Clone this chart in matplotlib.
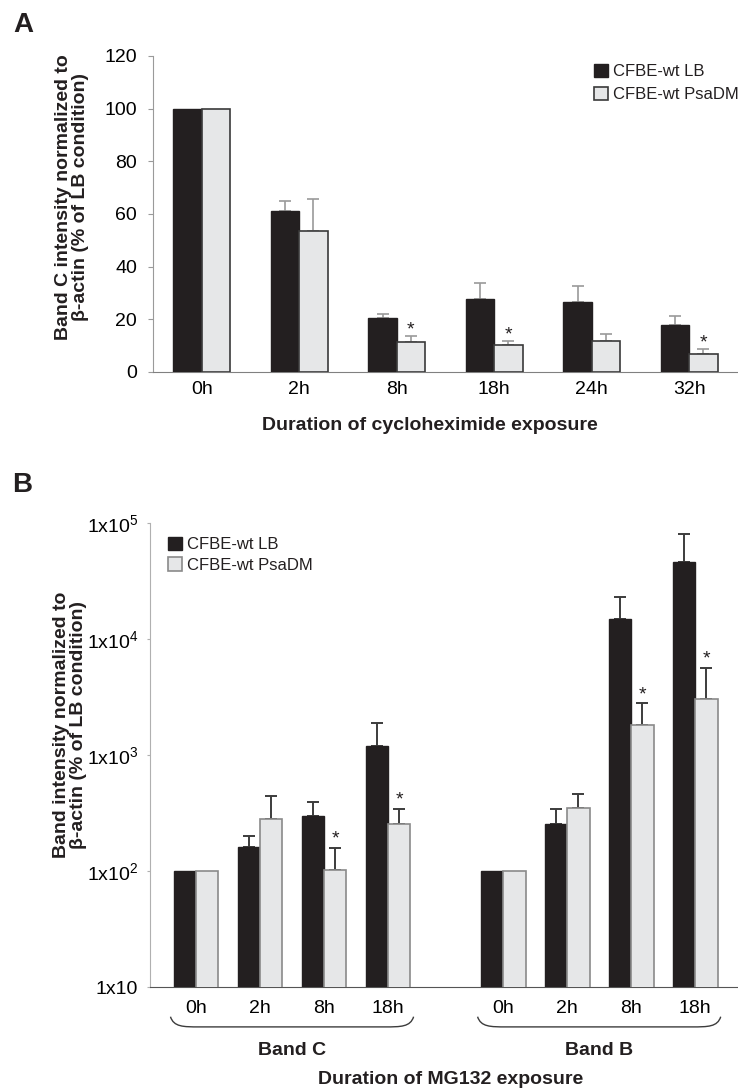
import numpy as np
import matplotlib
matplotlib.use('Agg')
import matplotlib.pyplot as plt
from matplotlib.patches import PathPatch
from matplotlib.path import Path
from matplotlib.transforms import blended_transform_factory

plt.rcParams['font.family'] = ['Liberation Sans', 'DejaVu Sans']
plt.rcParams['mathtext.fontset'] = 'custom'
plt.rcParams['mathtext.rm'] = 'Liberation Sans'
plt.rcParams['mathtext.default'] = 'regular'
plt.rcParams['text.color'] = '#231f20'

# panel A: band C after cycloheximide (% of LB condition)
hours_a = ['0h', '2h', '8h', '18h', '24h', '32h']
lb_a = [100, 61, 20.5, 27.8, 26.7, 17.7]
lb_a_err = [0, 3.8, 1.7, 6.1, 6.0, 3.4]
psa_a = [100, 53.5, 11.5, 10.3, 11.9, 7.0]
psa_a_err = [0, 12.1, 2.2, 1.5, 2.4, 1.6]
sig_a = [False, False, True, True, False, True]

# panel B: bands C and B after MG132 (log scale)
hours_b = ['0h', '2h', '8h', '18h', '0h', '2h', '8h', '18h']
bands_b = ['Band C', 'Band B']
lb_b = [100, 161, 298, 1200, 100, 256, 14800, 46000]
lb_b_err = [0, 39, 92, 680, 0, 89, 8200, 35000]
psa_b = [100, 282, 103, 256, 100, 351, 1830, 3040]
psa_b_err = [0, 161, 56, 87, 0, 106, 950, 2600]
sig_b = [False, False, True, True, False, False, True, True]

labels = ['CFBE-wt LB', 'CFBE-wt PsaDM']
BLACK = '#231f20'
LIGHT = '#e6e7e8'

W, H = 738, 1091
fig = plt.figure(figsize=(W / 100, H / 100), dpi=100)


def box(l, t, r, b):
    return [l / W, 1 - b / H, (r - l) / W, (b - t) / H]


def up_errors(ax, x, vals, errs, color, lw):
    x = np.asarray(x, float)
    vals = np.asarray(vals, float)
    errs = np.asarray(errs, float)
    keep = errs > 0
    ax.errorbar(x[keep], vals[keep], yerr=[np.zeros(keep.sum()), errs[keep]],
                fmt='none', ecolor=color, elinewidth=lw, capsize=4, capthick=lw,
                zorder=2)


def stars(ax, x, vals, errs, sig, dy):
    for xi, v, e, s in zip(x, vals, errs, sig):
        if s:
            ax.annotate('*', (xi, v + e), xytext=(0, dy), textcoords='offset points',
                        ha='center', va='baseline', fontsize=14)


# ---- A ----
axA = fig.add_axes(box(153, 56, 738, 372))
xa = np.arange(len(hours_a))
wa = 0.29
b1 = axA.bar(xa - wa / 2, lb_a, wa, color=BLACK, edgecolor=BLACK, lw=1, zorder=3)
b2 = axA.bar(xa + wa / 2, psa_a, wa, color=LIGHT, edgecolor='#3a3a3a', lw=1.2, zorder=3)
up_errors(axA, xa - wa / 2, lb_a, lb_a_err, '#9a9a9a', 1.2)
up_errors(axA, xa + wa / 2, psa_a, psa_a_err, '#9a9a9a', 1.2)
stars(axA, xa + wa / 2, psa_a, psa_a_err, sig_a, 1)

axA.set_xlim(-0.5, 5.5)
axA.set_ylim(0, 120)
axA.set_yticks(range(0, 121, 20))
axA.set_xticks(xa, hours_a)
axA.tick_params(axis='x', length=0, pad=6.5, labelsize=14)
axA.tick_params(axis='y', length=3.6, color='#9a9a9a', pad=8, labelsize=14)
for s in ['top', 'right']:
    axA.spines[s].set_visible(False)
axA.spines['left'].set_color('#9a9a9a')
axA.spines['bottom'].set_color('#808080')
axA.legend([b1, b2], labels, loc='upper left', bbox_to_anchor=(594 / W, 1 - 64 / H),
           bbox_transform=fig.transFigure, frameon=False, fontsize=12,
           handlelength=0.85, handleheight=0.85, handletextpad=0.3,
           labelspacing=0.45, borderpad=0, borderaxespad=0)

fig.text(72 / W, 1 - 197 / H, 'Band C intensity normalized to\nβ-actin (% of LB condition)',
         rotation=90, ha='center', va='center', multialignment='center',
         fontsize=14, fontweight='bold', linespacing=1.05)
fig.text(430 / W, 1 - 425 / H, 'Duration of cycloheximide exposure',
         ha='center', va='center', fontsize=14, fontweight='bold')
fig.text(13 / W, 1 - 32 / H, 'A', fontsize=20, fontweight='bold', va='baseline')

# ---- B ----
axB = fig.add_axes(box(150, 523, 738, 987))
xb = np.array([0, 1, 2, 3, 4.8, 5.8, 6.8, 7.8])
wb = 0.35
c1 = axB.bar(xb - wb / 2, lb_b, wb, color=BLACK, edgecolor=BLACK, lw=1, zorder=3)
c2 = axB.bar(xb + wb / 2, psa_b, wb, color=LIGHT, edgecolor='#8a8a8a', lw=1.2, zorder=3)
up_errors(axB, xb - wb / 2, lb_b, lb_b_err, '#3c3c3c', 1.4)
up_errors(axB, xb + wb / 2, psa_b, psa_b_err, '#3c3c3c', 1.4)
stars(axB, xb + wb / 2, psa_b, psa_b_err, sig_b, 3)

axB.set_yscale('log')
axB.set_ylim(10, 1e5)
axB.set_xlim(-0.72, 8.47)
axB.set_yticks([10, 1e2, 1e3, 1e4, 1e5],
               ['1x10', '1x10$^{2}$', '1x10$^{3}$', '1x10$^{4}$', '1x10$^{5}$'])
axB.yaxis.set_minor_locator(matplotlib.ticker.NullLocator())
axB.set_xticks(xb, hours_b)
axB.tick_params(axis='x', length=0, pad=9.5, labelsize=14)
axB.tick_params(axis='y', length=2.5, color='#b0b0b0', pad=6, labelsize=14)
for s in ['top', 'right']:
    axB.spines[s].set_visible(False)
axB.spines['left'].set_color('#b0b0b0')
axB.spines['bottom'].set_color('#555555')
axB.legend([c1, c2], labels, loc='upper left', bbox_to_anchor=(168 / W, 1 - 537 / H),
           bbox_transform=fig.transFigure, frameon=False, fontsize=12,
           handlelength=0.85, handleheight=0.85, handletextpad=0.3,
           labelspacing=0.3, borderpad=0, borderaxespad=0)

# curved brackets under each band's time points
trans = blended_transform_factory(axB.transData, axB.transAxes)
y_top, y_bot = -0.064, -0.086
for x0, x1, name in [(-0.4, 3.4, bands_b[0]), (4.4, 8.2, bands_b[1])]:
    verts = [(x0, y_top), (x0 + 0.05, y_bot), (x0 + 0.2, y_bot), (x0 + 0.45, y_bot),
             (x1 - 0.45, y_bot),
             (x1 - 0.2, y_bot), (x1 - 0.05, y_bot), (x1, y_top)]
    codes = [Path.MOVETO, Path.CURVE4, Path.CURVE4, Path.CURVE4, Path.LINETO,
             Path.CURVE4, Path.CURVE4, Path.CURVE4]
    axB.add_patch(PathPatch(Path(verts, codes), fill=False, edgecolor='#3c3c3c',
                            lw=1, transform=trans, clip_on=False))
    axB.text((x0 + x1) / 2, -0.136, name, transform=trans, ha='center', va='center',
             fontsize=14, fontweight='bold')

fig.text(70 / W, 1 - 725 / H, 'Band intensity normalized to\nβ-actin (% of LB condition)',
         rotation=90, ha='center', va='center', multialignment='center',
         fontsize=14, fontweight='bold', linespacing=1.05)
fig.text(451 / W, 1 - 1080 / H, 'Duration of MG132 exposure',
         ha='center', va='center', fontsize=14, fontweight='bold')
fig.text(12 / W, 1 - 492 / H, 'B', fontsize=20, fontweight='bold', va='baseline')

fig.savefig('out.png', dpi=100)
